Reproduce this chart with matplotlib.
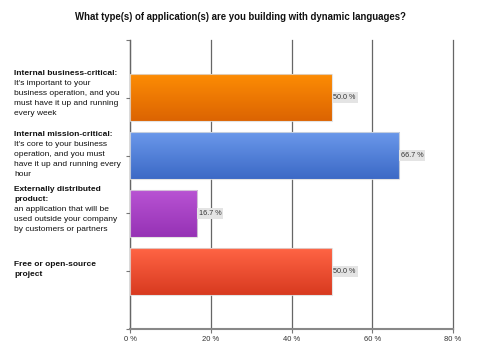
import numpy as np
import matplotlib.pyplot as plt
from matplotlib.colors import LinearSegmentedColormap

# data
heads = [["Internal business-critical:"], ["Internal mission-critical:"],
         ["Externally distributed", "product:"], ["Free or open-source", "project"]]
bodies = [["It's important to your", "business operation, and you",
           "must have it up and running", "every week"],
          ["It's core to your business", "operation, and you must",
           "have it up and running every", "hour"],
          ["an application that will be", "used outside your company",
           "by customers or partners"],
          []]
values = [50.0, 66.7, 16.7, 50.0]
top_colors = ["#fd8c04", "#6a98ea", "#b853d3", "#ff6444"]
bot_colors = ["#dc6402", "#3c69c6", "#9632b5", "#d83a20"]
xticks = [0, 20, 40, 60, 80]
# first label line centre, px above the category tick
label_top = [25, 22, 25, 8]

plt.rcParams['font.family'] = ['Liberation Sans', 'DejaVu Sans']

fig = plt.figure(figsize=(4.8, 3.6), dpi=100)
ax = fig.add_axes([130/480, 1-329/360, 323/480, 289/360])

ypos = np.arange(1, len(values)+1)
bh = 0.81
bars = ax.barh(ypos, values, height=bh, color='none', edgecolor='none', zorder=3)

grad = np.linspace(0, 1, 64).reshape(-1, 1)
for i, b in enumerate(bars):
    cm = LinearSegmentedColormap.from_list('g%d' % i, [top_colors[i], bot_colors[i]])
    y0 = b.get_y()
    im = ax.imshow(grad, extent=(0, values[i], y0 + bh, y0), origin='upper',
                   aspect='auto', cmap=cm, zorder=3, interpolation='bilinear')
    im.set_clip_path(b)
    ax.add_patch(plt.Rectangle((0, y0), values[i], bh, fill=False,
                               edgecolor='#dcdcdc', alpha=0.8, lw=0.8, zorder=4))
    ax.text(values[i] + 0.4, ypos[i], "%.1f %%" % values[i], fontsize=5.2,
            color='#333333', va='center', ha='left', zorder=5,
            bbox=dict(boxstyle='square,pad=0.25', fc='#e4e4e4', ec='none'))

ax.set_xlim(0, 80)
ax.set_ylim(5, 0)
ax.set_xticks(xticks)
ax.set_xticklabels(["%d %%" % t for t in xticks], fontsize=5.5, color='#333333')
ax.set_yticks(np.arange(0, 6))
ax.set_yticklabels([])
ax.tick_params(axis='x', length=3, width=0.8, color='#777777', pad=2)
ax.tick_params(axis='y', length=3, width=0.8, color='#777777')
ax.grid(axis='x', color='#666666', lw=0.9, zorder=1)
for gl in ax.get_xgridlines():
    gl.set_clip_on(False)
ax.set_axisbelow(True)
for s in ['top', 'right']:
    ax.spines[s].set_visible(False)
ax.spines['left'].set_color('#666666')
ax.spines['left'].set_linewidth(0.9)
ax.spines['bottom'].set_color('#888888')
ax.spines['bottom'].set_linewidth(1.5)

# category labels: bold heading lines then normal body lines, 10 px apart
px = 0.72
fs = 6.0
for i in range(len(values)):
    lines = [(t, 'bold') for t in heads[i]] + [(t, 'normal') for t in bodies[i]]
    for j, (t, w) in enumerate(lines):
        ax.annotate(t, xy=(0, ypos[i]), xycoords=('axes fraction', 'data'),
                    xytext=(-116*px, (label_top[i] - 10*j)*px), textcoords='offset points',
                    fontsize=fs, fontweight=w, va='center_baseline', ha='left',
                    color='#111111')

fig.text(0.5, 1-17/360, "What type(s) of application(s) are you building with dynamic languages?",
         ha='center', va='center', fontsize=6.9, fontweight='bold', color='#111111')

fig.savefig('out.png', dpi=100)
